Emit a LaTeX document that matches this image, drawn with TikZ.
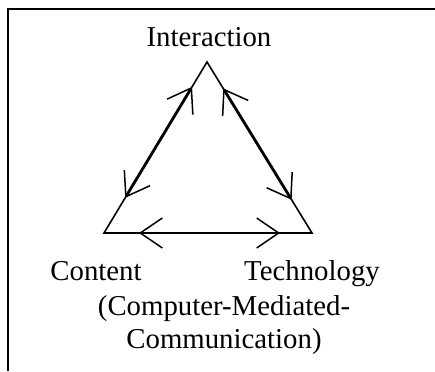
\documentclass[tikz,border=0pt]{standalone}
\usepackage{fontspec}
\setmainfont{Liberation Serif}
\usetikzlibrary{arrows.meta}
\usetikzlibrary{positioning}

\begin{document}
\begin{tikzpicture}[
    x=1pt, y=-1pt,
    frame/.style={
        draw=black,
        line width=1.8pt
    },
    side/.style={
        draw=black,
        line width=1.6pt
    },
    myarrow/.style={
        {Straight Barb[length=22pt, width=30pt, line width=1.5pt]}-{Straight Barb[length=22pt, width=30pt, line width=1.5pt]},
        draw=black,
        line width=2.8pt
    },
    flatarrow/.style={
        myarrow,
        line width=2pt
    },
    vertex/.style={
        font=\fontsize{28.8}{33}\selectfont,
        inner sep=0pt,
        anchor=base,
        align=center
    }
]
\useasboundingbox (0,0) rectangle (435,371);

% Frame around the figure
\draw[frame] (8,371) -- (8,9) -- (435,9);

% Corners of the triangle
\coordinate (top) at (207,62);
\coordinate (left) at (104,233);
\coordinate (right) at (312,233);

% Labels
\node[vertex] (interaction) at (209,47) {Interaction};
\node[vertex] (content) at (96,280) {Content};
\node[vertex] (technology) at (312,280) {Technology};
\node[vertex] (cmc) at (224,348) {(Computer-Mediated-\\Communication)};

% Triangle
\draw[side] (top) -- (left) -- (right) -- cycle;

% Arrows along the sides
\draw[myarrow, shorten <=29pt, shorten >=41pt] (top) -- (left);
\draw[myarrow, shorten <=31pt, shorten >=39pt] (top) -- (right);
\draw[flatarrow, shorten <=35pt, shorten >=32pt] (left) -- (right);

\end{tikzpicture}
\end{document}
